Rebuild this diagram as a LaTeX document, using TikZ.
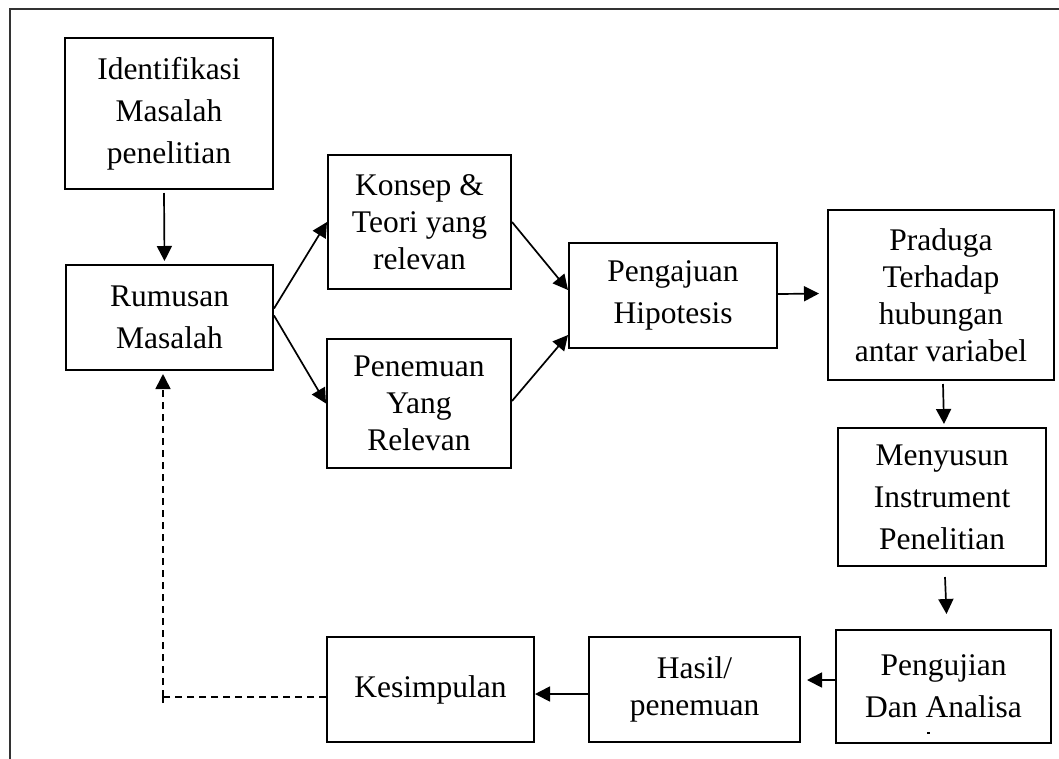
\documentclass[tikz,border=0pt]{standalone}
\usepackage{fontspec}
\setmainfont{Liberation Serif}
\usetikzlibrary{arrows.meta,calc}
\tikzset{
  box/.style={draw=black, line width=2pt, inner sep=0pt, align=center,
    font=\fontsize{31.5}{42}\selectfont},
  tight/.style={font=\fontsize{31.5}{37}\selectfont},
  tip/.style={-{Triangle[length=15pt,width=15pt]}},
  arr/.style={line width=1.7pt, tip},
  dsh/.style={line width=1.6pt, dash pattern=on 7pt off 5pt},
  frame/.style={line width=2pt, draw=black!80}
}
\begin{document}
\begin{tikzpicture}[x=1pt,y=-1pt]
\useasboundingbox (0,0) rectangle (1059,758);
\fill[white] (0,0) rectangle (1059,758);
\draw[frame] (10,760) -- (10,9) -- (1061,9);

\node[box, minimum width=208pt, minimum height=151pt] (ident) at (169,113.5) {Identifikasi\\Masalah\\penelitian};
\node[box, minimum width=207pt, minimum height=105pt] (rumus) at (169.5,317.5) {Rumusan\\Masalah};
\node[box, tight, minimum width=183pt, minimum height=134pt] (konsep) at (419.5,222) {Konsep \&\\Teori yang\\relevan};
\node[box, tight, minimum width=184pt, minimum height=129pt] (penem) at (419,403.5) {Penemuan\\Yang\\Relevan};
\node[box, minimum width=208pt, minimum height=105pt] (pengaj) at (673,295.5) {Pengajuan\\Hipotesis};
\node[box, tight, minimum width=226pt, minimum height=170pt] (praduga) at (941,295) {Praduga\\Terhadap\\hubungan\\antar variabel};
\node[box, minimum width=208pt, minimum height=138pt] (menyusun) at (942,497) {Menyusun\\Instrument\\Penelitian};
\node[box, minimum width=215pt, minimum height=113pt] (pengujian) at (943.5,686.5) {Pengujian\\Dan Analisa};
\node[box, tight, minimum width=211pt, minimum height=105pt] (hasil) at (694.5,689.5) {Hasil/\\penemuan};
\node[box, minimum width=207pt, minimum height=105pt] (kesim) at (430.5,689.5) {Kesimpulan};
\fill (926.5,732) rectangle (930,734);

\draw[arr] ([xshift=-5pt,yshift=-3pt]ident.south) -- ([xshift=-5pt,yshift=3pt]rumus.north);
\draw[arr] ([yshift=9pt]rumus.east) -- (konsep.west);
\draw[arr] ([yshift=2pt]rumus.east) -- (penem.west);
\draw[arr] (konsep.east) -- ([yshift=5.5pt]pengaj.west);
\draw[arr] ([yshift=2.5pt]penem.east) -- ([yshift=-39.5pt]pengaj.west);
\draw[arr, shorten >=8pt] ([yshift=1.5pt]pengaj.east) -- ([yshift=1.5pt]praduga.west -| praduga.west);
\draw[arr] ([xshift=2pt,yshift=-3pt]praduga.south) -- ([xshift=2pt,yshift=3pt]menyusun.north);
\draw[arr] ([xshift=3pt,yshift=-10pt]menyusun.south) -- ([xshift=3pt,yshift=15pt]pengujian.north);
\draw[arr] ([yshift=6.5pt]pengujian.west) -- ([xshift=6pt,yshift=9.5pt]hasil.east);
\draw[arr] ([yshift=-4.5pt]hasil.west) -- ([yshift=-4.5pt]kesim.east);
\coordinate (corner) at ([yshift=-7.5pt]kesim.west -| 163,0);
\draw[dsh] ([yshift=-7.5pt]kesim.west) -- (corner);
\draw[dsh] ([yshift=-6pt]corner) -- (corner);
\draw[dsh, tip] (corner) -- ([xshift=-6.5pt,yshift=-3pt]rumus.south);
\end{tikzpicture}
\end{document}
